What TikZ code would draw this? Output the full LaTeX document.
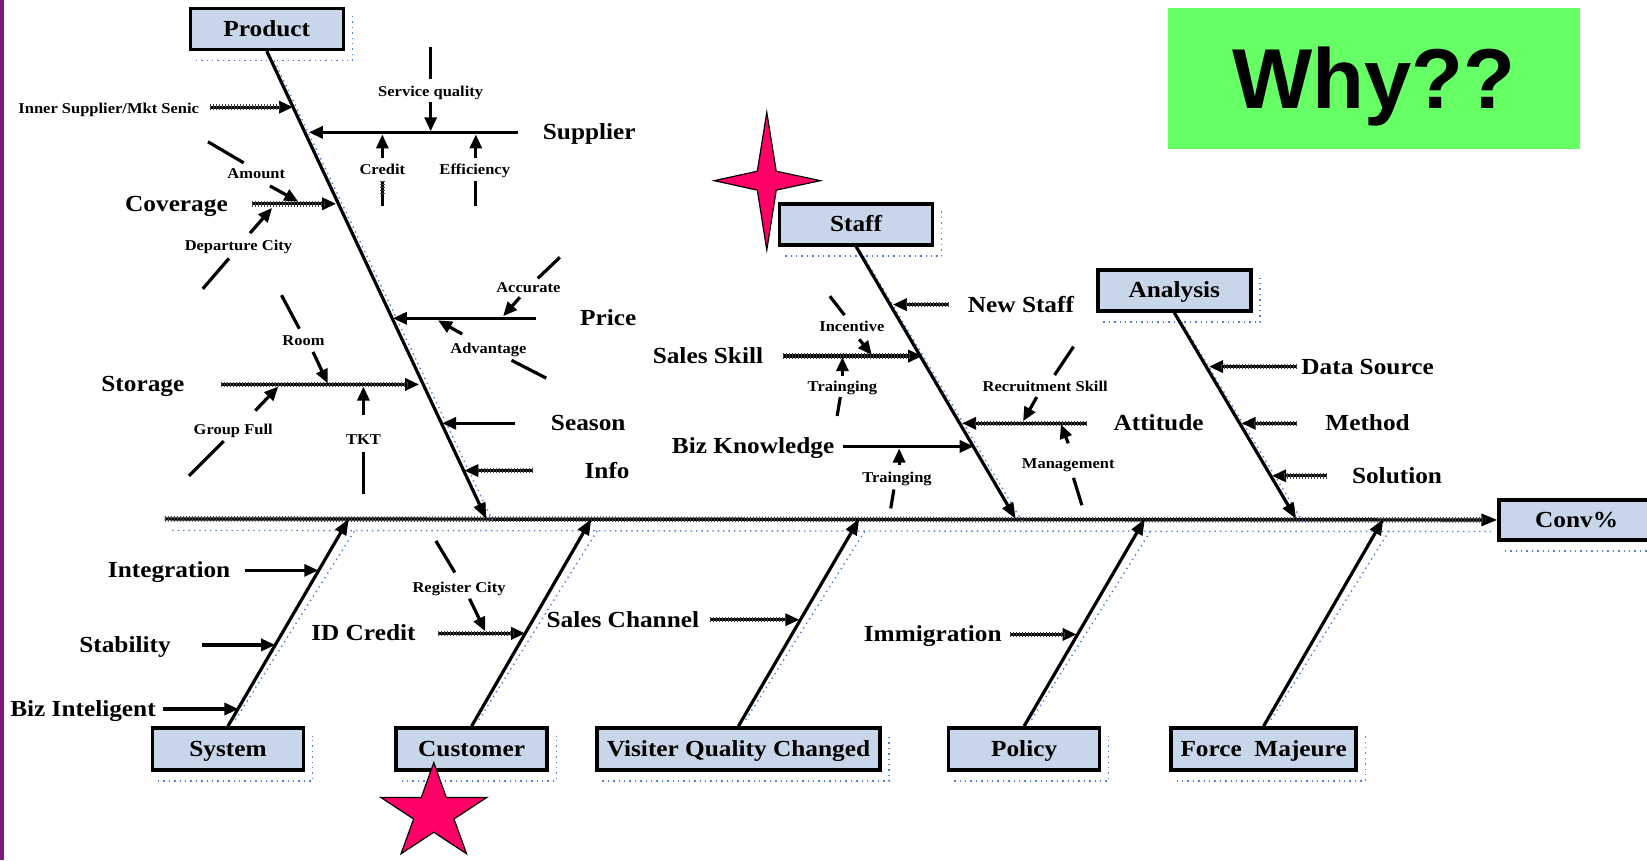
\documentclass[tikz,border=0pt]{standalone}
\usepackage{fontspec}
\setmainfont{Liberation Serif}[FakeStretch=1.1]
\newfontfamily\whyfont{Liberation Sans}
\usetikzlibrary{arrows.meta}
\definecolor{boxblue}{RGB}{200,214,234}
\definecolor{shadowblue}{RGB}{80,130,205}
\definecolor{whygreen}{RGB}{102,255,102}
\definecolor{starpink}{RGB}{255,0,102}
\definecolor{barpurple}{RGB}{128,24,120}
\newcommand\fbseg[4]{\coordinate (#1a) at (#2); \coordinate (#1b) at (#3); \draw[#4] (#1a) -- (#1b);}
\begin{document}
\begin{tikzpicture}[x=1.0504pt, y=-1.0504pt,
  bonebox/.style={draw=black, line width=3.6pt, fill=boxblue, inner sep=0pt, text height=20pt, text depth=5pt, font=\fontsize{23}{27}\selectfont\bfseries},
  biglabel/.style={font=\fontsize{23}{27}\selectfont\bfseries, inner sep=0pt, text height=20pt, text depth=5pt},
  smalllabel/.style={font=\fontsize{15}{18}\selectfont\bfseries, inner sep=0pt, text height=15pt, text depth=3pt},
  bone/.style={line width=3.2pt, -{Triangle[length=16pt,width=12pt]}},
  sub/.style={line width=3.2pt, -{Triangle[length=14pt,width=12pt]}},
  seg/.style={line width=3.2pt},
  hatch/.style={postaction={draw=black!75, -, line width=5.5pt, dash pattern=on 0.9pt off 2.1pt, shorten >=12pt}},
  shadowline/.style={draw=shadowblue, line width=1.4pt, dash pattern=on 1.4pt off 4pt},
  starfill/.style={fill=starpink, draw=black, line width=1.2pt, line join=miter},
]
\useasboundingbox (0,0) rectangle (1568,819);
\fill[white] (0,0) rectangle (1568,819);
\fill[barpurple] (0,0) rectangle (4,819);

% Why box
\node[fill=whygreen, minimum width=412pt, minimum height=141pt, inner sep=0pt,
      text height=61pt, text depth=0pt, font=\whyfont\bfseries\fontsize{85}{90}\selectfont] (why) at (1308,74.5) {Why??};

% boxes
\node[bonebox, minimum width=153pt, minimum height=41pt] (product) at (254,27.5) {Product};
\node[bonebox, minimum width=153pt, minimum height=41pt] (staff) at (815,213.5) {Staff};
\node[bonebox, minimum width=153pt, minimum height=41pt] (analysis) at (1118,276.5) {Analysis};
\node[bonebox, minimum width=155pt, minimum height=40pt] (conv) at (1501,495) {Conv\%};
\node[bonebox, minimum width=151pt, minimum height=42pt] (system) at (217,713) {System};
\node[bonebox, minimum width=151pt, minimum height=42pt] (customer) at (449,713) {Customer};
\node[bonebox, minimum width=283pt, minimum height=42pt] (visiter) at (703,713) {Visiter Quality Changed};
\node[bonebox, minimum width=151pt, minimum height=42pt] (policy) at (975,713) {Policy};
\node[bonebox, minimum width=185pt, minimum height=42pt] (force) at (1203,713) {Force\ \ Majeure};

% box shadows
\foreach \b in {product,staff,analysis,conv,system,customer,visiter,policy,force}{
  \draw[shadowline] ([shift={(7,9)}]\b.south west) -- ([shift={(7,9)}]\b.south east) -- ([shift={(7,9)}]\b.north east);
}

% spine
\coordinate (spineL) at (157,494);
\draw[shadowline] ([shift={(7,11)}]spineL) -- ([shift={(-6,11)}]conv.west);
\draw[bone, hatch] (spineL) -- (conv.west);

% bones
\coordinate (prodEnd) at (463,494);
\coordinate (staffEnd) at (967,494);
\coordinate (anaEnd) at (1234,494);
\coordinate (sysEnd) at (332,494);
\coordinate (custEnd) at (563,494);
\coordinate (visEnd) at (818,494);
\coordinate (polEnd) at (1090,494);
\coordinate (forceEnd) at (1317,494);
\draw[shadowline] ([shift={(7,9)}]product.south) -- ([shift={(7,4)}]prodEnd);
\draw[shadowline] ([shift={(7,9)}]staff.south) -- ([shift={(7,4)}]staffEnd);
\draw[shadowline] ([shift={(7,9)}]analysis.south) -- ([shift={(7,4)}]anaEnd);
\draw[shadowline] ([shift={(7,-6)}]system.north) -- ([shift={(7,9)}]sysEnd);
\draw[shadowline] ([shift={(7,-6)}]customer.north) -- ([shift={(7,9)}]custEnd);
\draw[shadowline] ([shift={(7,-6)}]visiter.north) -- ([shift={(7,9)}]visEnd);
\draw[shadowline] ([shift={(7,-6)}]policy.north) -- ([shift={(7,9)}]polEnd);
\draw[shadowline] ([shift={(7,-6)}]force.north) -- ([shift={(7,9)}]forceEnd);
\draw[bone] (product.south) -- (prodEnd);
\draw[bone] (staff.south) -- (staffEnd);
\draw[bone] (analysis.south) -- (anaEnd);
\draw[bone] (system.north) -- (sysEnd);
\draw[bone] (customer.north) -- (custEnd);
\draw[bone] (visiter.north) -- (visEnd);
\draw[bone] (policy.north) -- (polEnd);
\draw[bone] (force.north) -- (forceEnd);

% Product group
\node[smalllabel] (innerL) at (103.5,102) {Inner Supplier/Mkt Senic};
\fbseg{inner}{200,102}{279,102}{sub,hatch}
\node[biglabel] (supplierL) at (561,126) {Supplier};
\fbseg{supp}{493,126}{294,126}{sub}
\node[smalllabel] (servL) at (410,86) {Service quality};
\fbseg{servtop}{410,45}{410,75}{seg}
\fbseg{serv}{410,97}{410,125}{sub}
\node[smalllabel] (creditL) at (364,160) {Credit};
\fbseg{credit}{364,150}{364,128}{sub}
\fbseg{creditlo}{364,172}{364,196}{seg,hatch}
\node[smalllabel] (effL) at (452,160) {Efficiency};
\fbseg{eff}{453,150}{453,128}{sub}
\fbseg{efflo}{453,172}{453,196}{seg}
\node[biglabel] (covL) at (168,194) {Coverage};
\fbseg{cov}{240,194}{320,194}{sub,hatch}
\node[smalllabel] (amountL) at (244,164) {Amount};
\fbseg{amtlo}{198,135}{232,155}{seg}
\fbseg{amt}{257,177}{284,192}{sub}
\node[smalllabel] (depL) at (227,233) {Departure City};
\fbseg{dep}{238,222}{259,198}{sub}
\fbseg{deplo}{193,275}{218,246}{seg}
\node[biglabel] (priceL) at (579,303) {Price};
\fbseg{price}{510,303}{374,303}{sub}
\node[smalllabel] (accL) at (503,273) {Accurate};
\fbseg{acchi}{533,245}{512,265}{seg}
\fbseg{acc}{495,283}{479,301}{sub}
\node[smalllabel] (advL) at (465,331) {Advantage};
\fbseg{adv}{440,318}{417,305}{sub}
\fbseg{advlo}{487,343}{520,360}{seg}
\node[biglabel] (storL) at (136,366) {Storage};
\fbseg{stor}{210,366}{399,366}{sub,hatch}
\node[smalllabel] (roomL) at (289,323) {Room};
\fbseg{roomhi}{268,281}{285,313}{seg}
\fbseg{room}{298,335}{312,365}{sub}
\node[smalllabel] (grpL) at (222,408) {Group Full};
\fbseg{grp}{243,391}{265,368}{sub}
\fbseg{grplo}{180,453}{213,420}{seg}
\node[smalllabel] (tktL) at (346,417) {TKT};
\fbseg{tkt}{346,395}{346,368}{sub}
\fbseg{tktlo}{346,430}{346,470}{seg}
\node[biglabel] (seasonL) at (560,403) {Season};
\fbseg{season}{490,403}{421,403}{sub}
\node[biglabel] (infoL) at (578,448) {Info};
\fbseg{info}{507,448}{442,448}{sub,hatch}

% Staff group
\node[biglabel] (newL) at (972,290) {New Staff};
\fbseg{new}{903,290}{850,290}{sub,hatch}
\node[biglabel] (salesL) at (674,339) {Sales Skill};
\fbseg{sales}{745,339}{878,339}{sub,hatch}
\node[smalllabel] (incL) at (811,310) {Incentive};
\fbseg{inchi}{790,282}{804,300}{seg}
\fbseg{inc}{818,323}{830,338}{sub}
\node[smalllabel] (tr1L) at (802,367) {Trainging};
\fbseg{tr1}{802,358}{802,340}{sub}
\fbseg{tr1lo}{800,378}{797,396}{seg}
\node[biglabel] (attL) at (1103,403) {Attitude};
\fbseg{att}{1035,403}{916,403}{sub,hatch}
\node[smalllabel] (recL) at (995,367) {Recruitment Skill};
\fbseg{rechi}{1022,330}{1004,357}{seg}
\fbseg{rec}{987,378}{974,401}{sub}
\node[smalllabel] (mgmtL) at (1017,440) {Management};
\fbseg{mgmt}{1017,422}{1010,404}{sub}
\fbseg{mgmtlo}{1022,455}{1030,481}{seg}
\node[biglabel] (bizkL) at (717,425) {Biz Knowledge};
\fbseg{bizk}{803,425}{927,425}{sub}
\node[smalllabel] (tr2L) at (854,454) {Trainging};
\fbseg{tr2}{856,443}{856,427}{sub}
\fbseg{tr2lo}{851,466}{848,484}{seg}

% Analysis group
\node[biglabel] (dsL) at (1302,349) {Data Source};
\fbseg{ds}{1235,349}{1151,349}{sub,hatch}
\node[biglabel] (methL) at (1302,403) {Method};
\fbseg{meth}{1235,403}{1182,403}{sub,hatch}
\node[biglabel] (solL) at (1330,453) {Solution};
\fbseg{sol}{1263,453}{1211,453}{sub,hatch}

% Bottom groups
\node[biglabel] (intL) at (161,543) {Integration};
\fbseg{int}{233,543}{303,543}{sub}
\node[biglabel] (stabL) at (119,614) {Stability};
\fbseg{stab}{192,614}{262,614}{sub}
\node[biglabel] (biL) at (79,675) {Biz Inteligent};
\fbseg{bi}{155,675}{227,675}{sub}
\node[biglabel] (idL) at (346,603) {ID Credit};
\fbseg{id}{417,603}{500,603}{sub,hatch}
\node[smalllabel] (regL) at (437,558) {Register City};
\fbseg{reghi}{415,515}{433,545}{seg}
\fbseg{reg}{447,570}{462,601}{sub}
\node[biglabel] (scL) at (593,590) {Sales Channel};
\fbseg{sc}{676,590}{761,590}{sub,hatch}
\node[biglabel] (immL) at (888,604) {Immigration};
\fbseg{imm}{962,604}{1025,604}{sub,hatch}

% stars
\draw[starfill] (730,107) -- (739,163) -- (781,172) -- (739,181) -- (730,238) -- (721,181) -- (680,172) -- (721,163) -- cycle;
\begin{scope}[shift={(413,774)}]
\draw[starfill] (0,-48) -- (11.9,-14.8) -- (50.4,-14.8) -- (19.2,5.7) -- (31.2,38.8) -- (0,18.3) -- (-31.2,38.8) -- (-19.2,5.7) -- (-50.4,-14.8) -- (-11.9,-14.8) -- cycle;
\end{scope}
\end{tikzpicture}
\end{document}
